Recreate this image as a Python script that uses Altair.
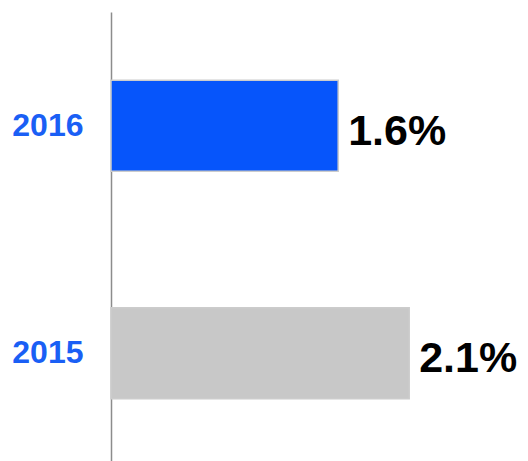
import altair as alt
import pandas as pd

years = ["2016", "2015"]
values = [1.6, 2.1]
labels = ["1.6%", "2.1%"]
colors = ["#0655fb", "#c8c8c8"]

df = pd.DataFrame({"year": years, "value": values, "label": labels, "color": colors})

y_enc = alt.Y(
    "year:N",
    sort=years,
    title=None,
    scale=alt.Scale(paddingInner=0.6, paddingOuter=0.3),
    axis=alt.Axis(
        domain=True,
        domainColor="#8c8c8c",
        domainWidth=1.5,
        ticks=False,
        grid=False,
        labelFont="Liberation Sans",
        labelFontWeight="bold",
        labelFontSize=32,
        labelColor="#1a5ff5",
        labelPadding=28,
    ),
)

x_enc = alt.X("value:Q", scale=alt.Scale(domain=[0, 2.5], nice=False), axis=None)

bars = alt.Chart(df).mark_bar(stroke="#cccccc", strokeWidth=1.5).encode(
    y=y_enc,
    x=x_enc,
    color=alt.Color("color:N", scale=None),
)

text = alt.Chart(df).mark_text(
    align="left",
    baseline="middle",
    dx=10,
    dy=6,
    font="Liberation Sans",
    fontWeight="bold",
    fontSize=43,
    color="#000000",
).encode(
    y=y_enc,
    x=x_enc,
    text="label:N",
)

chart = (
    alt.layer(bars, text)
    .properties(
        width=355,
        height=455,
        background="#ffffff",
        autosize=alt.AutoSizeParams(type="none"),
        padding={"left": 103, "top": 4, "right": 54, "bottom": 0},
    )
    .configure_view(strokeWidth=0, stroke="transparent")
)

chart.save("out.html", embed_options={"renderer": "svg", "actions": False})
